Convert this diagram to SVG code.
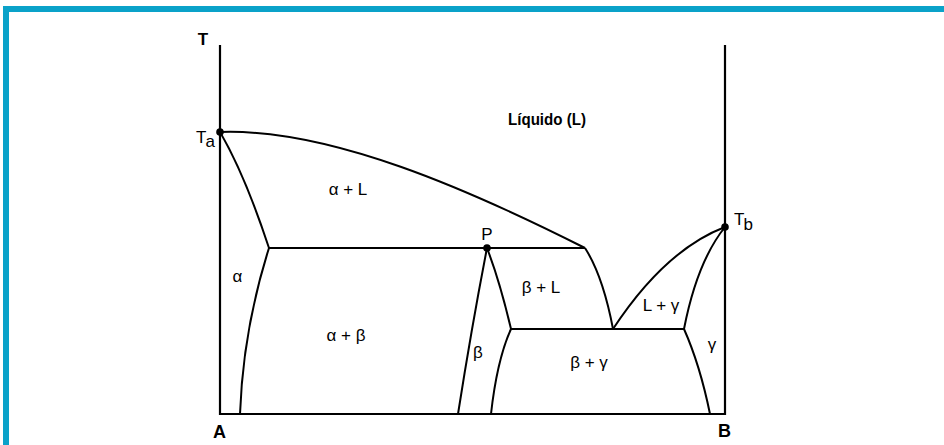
<svg xmlns="http://www.w3.org/2000/svg" width="944" height="445" viewBox="0 0 944 445">
<style>
.frame{fill:#0aa2c9}
.ln{fill:none;stroke:#000;stroke-width:2;stroke-linejoin:round}
.ax{fill:none;stroke:#000;stroke-width:2.2}
.t{font-family:"Liberation Sans",Arial,sans-serif;font-size:17px;fill:#000}
.b{font-family:"Liberation Sans",Arial,sans-serif;font-weight:bold;fill:#000}
.dot{fill:#000}
</style>
<rect width="944" height="445" fill="#fff"/>
<g id="frame">
<rect class="frame" x="3" y="6" width="941" height="6"/>
<rect class="frame" x="3" y="6" width="6" height="439"/>
</g>
<g id="axes">
<path class="ax" d="M220,45 V414 H725 V45"/>
<text class="b" x="203" y="45" font-size="17" text-anchor="middle">T</text>
<text class="b" x="219.5" y="438" font-size="18" text-anchor="middle">A</text>
<text class="b" x="724.5" y="437" font-size="18" text-anchor="middle">B</text>
</g>
<g id="connectors">
<path class="ln" d="M220,132 C330,128 470,190 585,248"/>
<path class="ln" d="M220,132 Q245,175 269,248"/>
<path class="ln" d="M269,248 Q243,330 240,414"/>
<path class="ln" d="M269,248 H585"/>
<path class="ln" d="M487,248 Q472,325 458,414"/>
<path class="ln" d="M487,248 Q500,282 511,329"/>
<path class="ln" d="M511,329 Q497,360 491,414"/>
<path class="ln" d="M511,329 H684"/>
<path class="ln" d="M585,248 Q603,276 613,329"/>
<path class="ln" d="M613,329 Q665,250 725,227"/>
<path class="ln" d="M725,227 Q697,262 684,329"/>
<path class="ln" d="M684,329 Q700,365 710,414"/>
</g>
<g id="Ta">
<circle class="dot" cx="220" cy="132" r="3.8"/>
<text class="t" x="196" y="143" font-size="16">T</text>
<text class="t" x="205.5" y="147" font-size="14">a</text>
</g>
<g id="Tb">
<circle class="dot" cx="725" cy="227" r="3.8"/>
<text class="t" x="734" y="225" font-size="16">T</text>
<text class="t" x="743.5" y="230" font-size="14">b</text>
</g>
<g id="P">
<circle class="dot" cx="487" cy="248" r="3.8"/>
<text class="t" x="487" y="240" text-anchor="middle">P</text>
</g>
<g id="liquido"><text class="b" x="508" y="125" font-size="16" textLength="78" lengthAdjust="spacingAndGlyphs">Líquido (L)</text></g>
<g id="alphaL"><text class="t" x="348" y="195" text-anchor="middle">α + L</text></g>
<g id="alpha"><text class="t" x="237.5" y="282" text-anchor="middle">α</text></g>
<g id="alphabeta"><text class="t" x="346" y="341" text-anchor="middle">α + β</text></g>
<g id="beta"><text class="t" x="478" y="358" text-anchor="middle">β</text></g>
<g id="betaL"><text class="t" x="541" y="293" text-anchor="middle">β + L</text></g>
<g id="betagamma"><text class="t" x="589" y="368" text-anchor="middle">β + γ</text></g>
<g id="Lgamma"><text class="t" x="661" y="311" text-anchor="middle">L + γ</text></g>
<g id="gamma"><text class="t" x="712" y="350" text-anchor="middle">γ</text></g>
</svg>
